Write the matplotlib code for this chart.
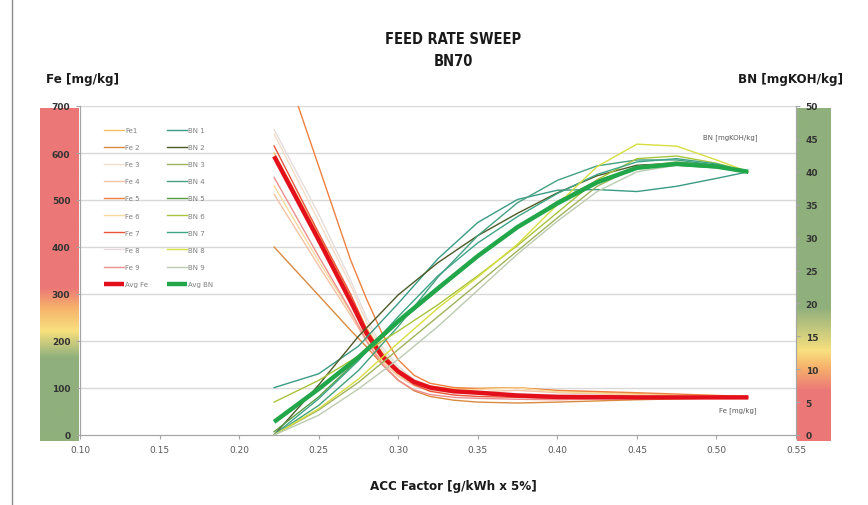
import matplotlib
matplotlib.use('Agg')
import matplotlib.pyplot as plt
import numpy as np
from matplotlib.colors import LinearSegmentedColormap
from matplotlib.lines import Line2D

# ── Data ──────────────────────────────────────────────────────────────────────
FE_X = [0.222, 0.25, 0.27, 0.28, 0.29, 0.30, 0.31, 0.32, 0.335, 0.35, 0.375, 0.40, 0.45, 0.52]
fe1   = [600, 425, 298, 228, 175, 140, 116, 104, 98, 99, 101, 94, 88, 80]
fe2   = [400, 297, 223, 188, 150, 117, 94, 82, 74, 70, 68, 70, 75, 80]
fe3   = [640, 455, 320, 240, 180, 140, 114, 100, 93, 90, 87, 84, 82, 80]
fe4   = [512, 360, 255, 200, 155, 125, 105, 95, 90, 92, 95, 90, 85, 80]
fe5   = [850, 572, 373, 290, 215, 160, 127, 110, 101, 99, 100, 95, 90, 82]
fe6   = [530, 370, 262, 205, 160, 128, 108, 98, 95, 97, 100, 92, 86, 80]
fe7   = [615, 430, 300, 225, 170, 132, 107, 93, 85, 82, 80, 78, 78, 80]
fe8   = [650, 470, 330, 250, 187, 146, 118, 103, 95, 92, 88, 85, 83, 80]
fe9   = [548, 380, 265, 200, 150, 116, 96, 86, 80, 78, 76, 75, 78, 80]
fe_avg = [593, 415, 285, 217, 167, 135, 113, 101, 93, 90, 84, 81, 80, 80]

BN_X = [0.222, 0.25, 0.275, 0.30, 0.325, 0.35, 0.375, 0.40, 0.425, 0.45, 0.475, 0.50, 0.52]
bn1   = [7.2, 9.3, 13.5, 20.0, 26.8, 32.3, 35.8, 37.2, 37.3, 37.0, 37.8, 39.0, 40]
bn2   = [0.0, 7.6, 15.0, 21.3, 26.2, 30.3, 33.7, 36.8, 39.4, 41.0, 41.3, 40.8, 40]
bn3   = [0.0, 3.8, 8.0, 13.0, 18.0, 23.0, 28.0, 33.0, 37.8, 40.8, 41.5, 41.0, 40]
bn4   = [0.0, 4.5, 9.8, 16.5, 24.0, 30.3, 35.3, 38.7, 40.9, 41.8, 41.8, 41.0, 40]
bn5   = [0.5, 5.8, 11.5, 17.0, 22.0, 27.0, 31.5, 35.5, 38.7, 40.6, 41.0, 40.6, 40]
bn6   = [5.0, 8.3, 12.0, 15.8, 19.8, 24.2, 28.8, 33.8, 38.8, 42.0, 42.4, 41.3, 40]
bn7   = [0.0, 5.5, 11.3, 18.0, 24.2, 29.2, 33.2, 36.7, 39.6, 41.5, 42.0, 41.2, 40]
bn8   = [0.0, 4.0, 8.5, 14.0, 19.3, 24.0, 29.0, 35.0, 40.8, 44.2, 43.9, 41.8, 40]
bn9   = [0.0, 3.0, 7.0, 11.5, 16.5, 22.0, 27.5, 32.5, 37.0, 40.0, 41.0, 40.7, 40]
bn_avg = [2.0, 7.0, 11.8, 17.3, 22.3, 27.2, 31.6, 35.2, 38.4, 40.6, 41.2, 40.8, 40]

FE_SERIES = [fe1, fe2, fe3, fe4, fe5, fe6, fe7, fe8, fe9]
BN_SERIES = [bn1, bn2, bn3, bn4, bn5, bn6, bn7, bn8, bn9]
FE_LABELS = ['Fe1', 'Fe 2', 'Fe 3', 'Fe 4', 'Fe 5', 'Fe 6', 'Fe 7', 'Fe 8', 'Fe 9']
BN_LABELS = ['BN 1', 'BN 2', 'BN 3', 'BN 4', 'BN 5', 'BN 6', 'BN 7', 'BN 8', 'BN 9']

X_TICKS = [0.10, 0.15, 0.20, 0.25, 0.30, 0.35, 0.40, 0.45, 0.50, 0.55]
FE_TICKS = [0, 100, 200, 300, 400, 500, 600, 700]
BN_TICKS = [0, 5, 10, 15, 20, 25, 30, 35, 40, 45, 50]

# ── Colours ───────────────────────────────────────────────────────────────────
FE_COLORS = ['#F5C160', '#D98A3F', '#F3DCC8', '#F4C2A4', '#EE8140',
             '#F7DA9E', '#E9553A', '#E6DCDC', '#EE8F8F']
FE_AVG_C = '#E3101C'
BN_COLORS = ['#3A9B84', '#4C5A26', '#9EB35B', '#43A180', '#5A9E48',
             '#A8C43A', '#3EA486', '#D7DE3E', '#BCCBB0']
BN_AVG_C = '#21A64A'
GRID_C = '#D9D9D9'
SPINE_C = '#A6A6A6'
TICK_C = '#595959'
C_GREEN = '#8FB07C'
C_YEL = '#F8E07E'
C_ORG = '#F6B26B'
C_RED = '#EC7777'

TITLE_KW = dict(family='DejaVu Sans', fontstretch='condensed', fontweight='bold',
                ha='center', va='center', color='#1a1a1a')

# ── Figure setup ──────────────────────────────────────────────────────────────
fig = plt.figure(figsize=(8.68, 5.06), dpi=100)
fig.patch.set_facecolor('white')

L, B, W, H = 80/868, 70/506, 716/868, 329/506

# gradient bands behind the tick labels
fe_cmap = LinearSegmentedColormap.from_list('fe', [(0, C_GREEN), (0.25, C_GREEN), (0.33, C_YEL),
                                                   (0.40, C_ORG), (0.46, C_RED), (1, C_RED)])
bn_cmap = LinearSegmentedColormap.from_list('bn', [(0, C_RED), (0.15, C_RED), (0.22, C_ORG),
                                                   (0.27, C_YEL), (0.40, C_GREEN), (1, C_GREEN)])
grad = np.linspace(0, 1, 256).reshape(-1, 1)
for x0, w, cmap in [(40/868, 39/868, fe_cmap), (797/868, 34/868, bn_cmap)]:
    bax = fig.add_axes([x0, B - 6/506, w, H + 4/506], zorder=-1)
    bax.imshow(grad, aspect='auto', cmap=cmap, origin='lower', extent=[0, 1, 0, 1])
    bax.axis('off')

ax = fig.add_axes([L, B, W, H])
ax2 = ax.twinx()
ax.set_xlim(0.10, 0.55)
ax.set_ylim(0, 700)
ax2.set_ylim(0, 50)

for yv in FE_TICKS[1:]:
    ax.axhline(yv, color=GRID_C, lw=1.0, zorder=0)

# ── Series ────────────────────────────────────────────────────────────────────
handles = []
for ys, c, lab in zip(FE_SERIES, FE_COLORS, FE_LABELS):
    h, = ax.plot(FE_X, ys, color=c, lw=1.0, label=lab, solid_joinstyle='round')
    handles.append(h)
h, = ax.plot(FE_X, fe_avg, color=FE_AVG_C, lw=3.2, label='Avg Fe',
             solid_joinstyle='round', solid_capstyle='butt')
handles.append(h)
for ys, c, lab in zip(BN_SERIES, BN_COLORS, BN_LABELS):
    h, = ax2.plot(BN_X, ys, color=c, lw=1.0, label=lab, solid_joinstyle='round')
    handles.append(h)
h, = ax2.plot(BN_X, bn_avg, color=BN_AVG_C, lw=3.2, label='Avg BN',
              solid_joinstyle='round', solid_capstyle='butt')
handles.append(h)

# ── Axes styling ──────────────────────────────────────────────────────────────
for a in (ax, ax2):
    for s in a.spines.values():
        s.set_color(SPINE_C)
    a.spines['top'].set_visible(False)
ax.set_xticks(X_TICKS)
ax.set_xticklabels([f'{v:.2f}' for v in X_TICKS])
ax.tick_params(axis='x', labelsize=6.5, colors=SPINE_C, labelcolor=TICK_C, length=3, pad=4)
ax.set_yticks(FE_TICKS)
ax.tick_params(axis='y', labelsize=6.5, colors=SPINE_C, labelcolor='#333333', length=3, pad=4)
ax2.set_yticks(BN_TICKS)
ax2.tick_params(axis='y', labelsize=6.5, colors=SPINE_C, labelcolor='#333333', length=3, pad=4)
for t in ax.get_yticklabels() + ax2.get_yticklabels():
    t.set_fontweight('bold')

leg = ax2.legend(handles=handles, ncol=2, loc='upper left', bbox_to_anchor=(0.025, 0.955),
                 frameon=False, fontsize=5, labelcolor='#7F7F7F', handlelength=2.8,
                 handletextpad=0.2, columnspacing=2.8, labelspacing=1.6)

ax2.text(0.5085, 45.3, 'BN [mgKOH/kg]', fontsize=5, color='#595959', ha='center', va='center')
ax.text(0.5135, 53, 'Fe [mg/kg]', fontsize=5, color='#595959', ha='center', va='center')

# ── Titles ────────────────────────────────────────────────────────────────────
fig.text(0.5225, 1 - 40/506, 'FEED RATE SWEEP', fontsize=10.5, **TITLE_KW)
fig.text(0.5225, 1 - 61/506, 'BN70', fontsize=10.5, **TITLE_KW)
fig.text(83/868, 1 - 79/506, 'Fe [mg/kg]', fontsize=9.5, **TITLE_KW)
fig.text(790/868, 1 - 80/506, 'BN [mgKOH/kg]', fontsize=9.5, **TITLE_KW)
fig.text(0.5225, 1 - 487/506, 'ACC Factor [g/kWh x 5%]', fontsize=9.5, **TITLE_KW)

# outer frame edge on the left
fig.add_artist(Line2D([12/868, 12/868], [0, 1], color='#8C8C8C', lw=1.0))

fig.savefig('out.png', dpi=100, facecolor='white')
